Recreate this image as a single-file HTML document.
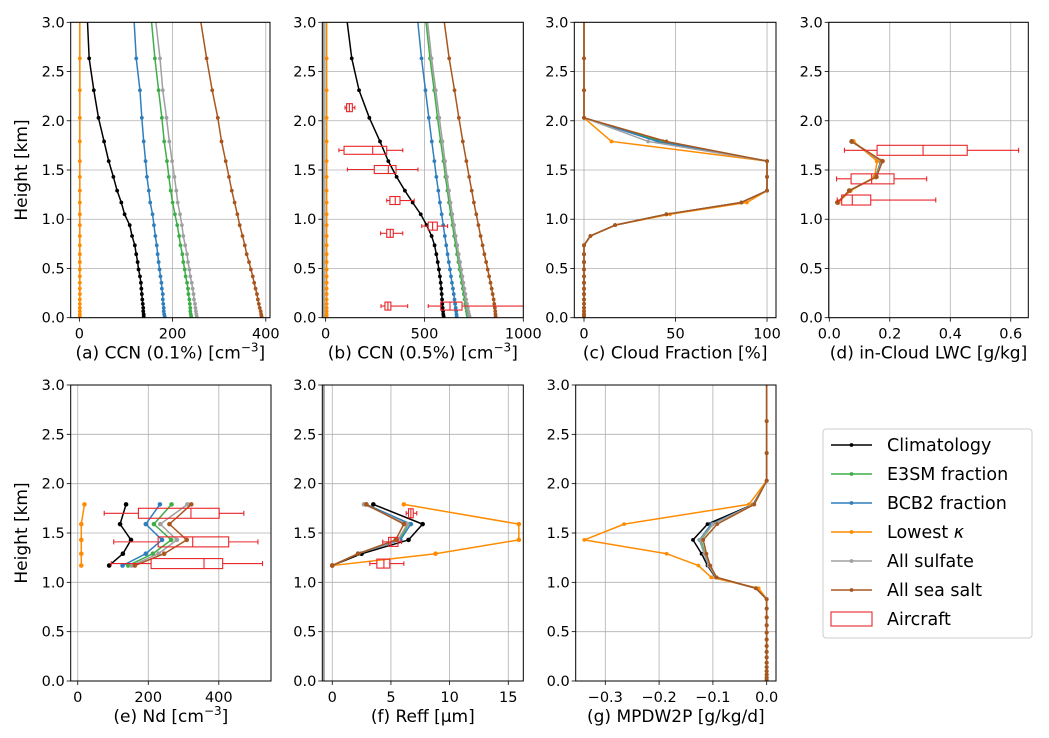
<!DOCTYPE html>
<html><head><meta charset="utf-8"><style>
html,body{margin:0;padding:0;background:#fff}
svg{display:block;font-family:"DejaVu Sans","Liberation Sans",sans-serif}
</style></head><body>
<svg id="fig" width="1049" height="738" viewBox="0 0 1049 738" xmlns="http://www.w3.org/2000/svg"></svg>
<script>
const LV=[3.05,2.634,2.31,2.03,1.79,1.59,1.43,1.29,1.17,1.05,0.94,0.83,0.735,0.645,0.565,0.49,0.42,0.355,0.295,0.24,0.185,0.14,0.10,0.065,0.035,0.012];
const CL=[1.79,1.59,1.43,1.29,1.17];
const names=["Climatology","E3SM fraction","BCB2 fraction","Lowest \u03ba","All sulfate","All sea salt"];
const colors=["#000000","#3fae49","#2f7fbd","#ff8c00","#a0a0a0","#a9561e"];
// (a) CCN 0.1%
const a_clim=[17,21,31,41,53,63,73,81,90,97,108,113,119,122,125,127,130,132,133,134,135,136,137,137,138,138];
const a_e3sm=[154,162,170,177,182,188,192,196,200,205,210,214,217,221,223,226,228,231,233,234,236,237,238,238,239,240];
const a_bcb2=[117,122,130,134,138,142,145,149,152,157,160,163,166,168,170,172,174,176,177,179,179,180,181,181,182,183];
const a_low=[1,1,1,1,1,1,1,1,1,1,1,1,1,1,1,1,1,1,1,1,1,1,1,1,1,1];
const a_sulf=[163,173,179,187,193,199,204,208,211,216,220,223,227,231,233,236,238,241,243,245,246,248,249,250,251,252];
const a_salt=[259,273,285,297,305,314,321,327,333,339,344,350,355,359,364,368,372,375,378,381,383,385,387,389,390,391];
// (b) CCN 0.5%
const b_clim=[106,132,169,221,275,317,359,401,440,481,511,536,551,560,567,573,578,582,585,587,589,590,592,594,595,597];
const b_e3sm=[505,528,549,566,582,596,606,616,624,633,642,650,658,665,672,678,684,689,694,699,703,707,711,714,717,720];
const b_bcb2=[464,485,505,522,537,550,560,570,578,587,595,603,610,617,623,629,634,639,644,648,652,655,658,660,662,663];
const b_low=[5,5,5,5,5,5,5,5,5,5,5,5,5,5,5,5,5,5,5,5,5,5,5,5,5,5];
const b_sulf=[513,536,557,575,591,604,614,624,632,641,650,658,666,673,680,686,692,697,702,707,711,715,719,722,725,728];
const b_salt=[597,625,652,674,694,712,726,739,750,762,773,784,794,803,812,820,827,834,840,845,850,853,856,858,859,860];
const b_boxH=[2.133,1.70,1.505,1.19,0.93,0.857,0.118,0.118];
const b_wlo=[98,67,110,309,486,278,280,519];
const b_q1=[106,93,246,325,519,309,300,582];
const b_med=[120,238,317,352,541,327,315,629];
const b_q3=[135,309,356,376,565,342,330,690];
const b_whi=[148,390,467,448,617,390,415,1100];
// (c) cloud fraction
const c_clim=[0,0,0,0,43,100,100,100,86,45,17,3.5,0,0,0,0,0,0,0,0,0,0,0,0,0,0];
const c_e3sm=[0,0,0,0,42,100,100,100,86,45,17,3.5,0,0,0,0,0,0,0,0,0,0,0,0,0,0];
const c_bcb2=[0,0,0,0,40,100,100,100,86,45,17,3.5,0,0,0,0,0,0,0,0,0,0,0,0,0,0];
const c_low=[0,0,0,0,15,100,100,100,89,47,17,3.5,0,0,0,0,0,0,0,0,0,0,0,0,0,0];
const c_sulf=[0,0,0,0,35,100,100,100,86,45,17,3.5,0,0,0,0,0,0,0,0,0,0,0,0,0,0];
const c_salt=[0,0,0,0,45,100,100,100,86,45,17,3.5,0,0,0,0,0,0,0,0,0,0,0,0,0,0];
// (d) LWC
const d_clim=[0.074,0.172,0.154,0.066,0.027];
const d_e3sm=[0.074,0.170,0.154,0.066,0.027];
const d_bcb2=[0.074,0.170,0.154,0.066,0.027];
const d_low=[0.080,0.158,0.150,0.070,0.030];
const d_sulf=[0.074,0.172,0.155,0.066,0.027];
const d_salt=[0.074,0.176,0.156,0.066,0.027];
const d_boxH=[1.70,1.41,1.195];
const d_wlo=[0.05,0.024,0.026];
const d_q1=[0.158,0.072,0.041];
const d_med=[0.31,0.14,0.076];
const d_q3=[0.456,0.214,0.137];
const d_whi=[0.626,0.322,0.352];
// (e) Nd
const e_clim=[137,120,151,128,89];
const e_e3sm=[266,216,265,213,143];
const e_bcb2=[233,193,239,193,127];
const e_low=[19,10,10,10,10];
const e_sulf=[311,234,281,229,153];
const e_salt=[322,260,309,245,162];
const e_boxH=[1.70,1.41,1.19];
const e_wlo=[75,102,95];
const e_q1=[172,228,208];
const e_med=[321,326,358];
const e_q3=[401,428,411];
const e_whi=[471,511,524];
// (f) Reff
const f_clim=[3.5,7.7,6.5,2.5,0];
const f_e3sm=[2.9,6.5,5.7,2.2,0];
const f_bcb2=[2.9,6.7,5.8,2.2,0];
const f_low=[6.1,15.9,15.9,8.8,0];
const f_sulf=[2.7,6.4,5.6,2.2,0];
const f_salt=[2.9,6.1,5.4,2.2,0];
const f_boxH=[1.70,1.41,1.19];
const f_wlo=[6.3,4.3,3.2];
const f_q1=[6.5,4.8,3.8];
const f_med=[6.7,5.0,4.4];
const f_q3=[6.9,5.6,4.9];
const f_whi=[7.2,5.9,6.1];
// (g) MPDW2P
const g_clim=[0,0,0,0,-0.025,-0.110,-0.137,-0.121,-0.110,-0.095,-0.020,0,0,0,0,0,0,0,0,0,0,0,0,0,0,0];
const g_e3sm=[0,0,0,0,-0.024,-0.100,-0.122,-0.115,-0.107,-0.094,-0.020,0,0,0,0,0,0,0,0,0,0,0,0,0,0,0];
const g_bcb2=[0,0,0,0,-0.024,-0.103,-0.125,-0.116,-0.108,-0.094,-0.020,0,0,0,0,0,0,0,0,0,0,0,0,0,0,0];
const g_low=[0,0,0,0,-0.033,-0.265,-0.339,-0.186,-0.127,-0.103,-0.015,0,0,0,0,0,0,0,0,0,0,0,0,0,0,0];
const g_sulf=[0,0,0,0,-0.024,-0.100,-0.124,-0.116,-0.108,-0.094,-0.020,0,0,0,0,0,0,0,0,0,0,0,0,0,0,0];
const g_salt=[0,0,0,0,-0.023,-0.092,-0.118,-0.112,-0.105,-0.093,-0.020,0,0,0,0,0,0,0,0,0,0,0,0,0,0,0];

const NS="http://www.w3.org/2000/svg";
const svg=document.getElementById('fig');
function mk(tag,attrs,parent){const e=document.createElementNS(NS,tag);for(const k in attrs)e.setAttribute(k,attrs[k]);(parent||svg).appendChild(e);return e;}
function fmtTick(v,dec){let s=v.toFixed(dec);if(v<0)s="\u2212"+s.slice(1);return s;}

const panels=[
 {id:"a",x0:70.7,x1:270,y0:22.3,y1:317.7,xmin:-18.6,xmax:409,ticks:[0,200,400],dec:0,label:"(a) CCN (0.1%) [cm",sup:"\u22123",end:"]",H:LV,series:[a_clim,a_e3sm,a_bcb2,a_low,a_sulf,a_salt],ylab:true},
 {id:"b",x0:322.3,x1:523.3,y0:22.3,y1:317.7,xmin:-17,xmax:1000,ticks:[0,500,1000],dec:0,label:"(b) CCN (0.5%) [cm",sup:"\u22123",end:"]",H:LV,series:[b_clim,b_e3sm,b_bcb2,b_low,b_sulf,b_salt],box:[b_boxH,b_wlo,b_q1,b_med,b_q3,b_whi],bh:8,leftGray:true},
 {id:"c",x0:574.3,x1:776,y0:22.3,y1:317.7,xmin:-5.3,xmax:104.9,ticks:[0,50,100],dec:0,label:"(c) Cloud Fraction [%]",H:LV,series:[c_clim,c_e3sm,c_bcb2,c_low,c_sulf,c_salt]},
 {id:"d",x0:828.7,x1:1028.3,y0:22.3,y1:317.7,xmin:-0.002,xmax:0.658,ticks:[0,0.2,0.4,0.6],dec:1,label:"(d) in-Cloud LWC [g/kg]",H:CL,series:[d_clim,d_e3sm,d_bcb2,d_low,d_sulf,d_salt],box:[d_boxH,d_wlo,d_q1,d_med,d_q3,d_whi],bh:10,big:true},
 {id:"e",x0:70.7,x1:271,y0:385,y1:681,xmin:-20,xmax:548,ticks:[0,200,400],dec:0,label:"(e) Nd [cm",sup:"\u22123",end:"]",H:CL,series:[e_clim,e_e3sm,e_bcb2,e_low,e_sulf,e_salt],box:[e_boxH,e_wlo,e_q1,e_med,e_q3,e_whi],bh:10,ylab:true,big:true},
 {id:"f",x0:322.3,x1:523.3,y0:385,y1:681,xmin:-0.85,xmax:16.28,ticks:[0,5,10,15],dec:0,label:"(f) Reff [\u03bcm]",H:CL,series:[f_clim,f_e3sm,f_bcb2,f_low,f_sulf,f_salt],box:[f_boxH,f_wlo,f_q1,f_med,f_q3,f_whi],bh:9,leftGray:true,big:true},
 {id:"g",x0:575.7,x1:776,y0:385,y1:681,xmin:-0.355,xmax:0.0173,ticks:[-0.3,-0.2,-0.1,0],dec:1,label:"(g) MPDW2P [g/kg/d]",H:LV,series:[g_clim,g_e3sm,g_bcb2,g_low,g_sulf,g_salt]}
];

panels.forEach(p=>{
  const g=mk('g',{});
  
  
  const X=v=>p.x0+(v-p.xmin)/(p.xmax-p.xmin)*(p.x1-p.x0);
  const Y=h=>p.y1-h/3*(p.y1-p.y0);
  const cp=mk('clipPath',{id:'clip-'+p.id},g);
  mk('rect',{x:p.x0,y:p.y0,width:p.x1-p.x0,height:p.y1-p.y0},cp);
  for(let k=0;k<=6;k++){const h=k*0.5;const gl=mk('line',{x1:p.x0,x2:p.x1,y1:Y(h),y2:Y(h),stroke:'#b0b0b0','stroke-width':0.8},g);
    
    const t=mk('text',{x:p.x0-6,y:Y(h)+5,'text-anchor':'end','font-size':14.5,fill:'#000'},g);t.textContent=h.toFixed(1);
    
    mk('line',{x1:p.x0-4,x2:p.x0,y1:Y(h),y2:Y(h),stroke:'#000','stroke-width':0.8},g);}
  p.ticks.forEach(v=>{const gl=mk('line',{x1:X(v),x2:X(v),y1:p.y0,y2:p.y1,stroke:'#b0b0b0','stroke-width':0.8},g);
    
    mk('line',{x1:X(v),x2:X(v),y1:p.y1,y2:p.y1+4,stroke:'#000','stroke-width':0.8},g);
    const t=mk('text',{x:X(v),y:p.y1+21,'text-anchor':'middle','font-size':14.5,fill:'#000'},g);t.textContent=fmtTick(v,p.dec);
    });
  const pg=mk('g',{'clip-path':'url(#clip-'+p.id+')'},g);
  if(p.leftGray){const lg=mk('line',{x1:p.x0+1.5,x2:p.x0+1.5,y1:p.y0,y2:p.y1,stroke:'#999','stroke-width':2},pg);
    }
  p.series.forEach((s,si)=>{
    const pts=s.map((v,i)=>X(v).toFixed(2)+','+Y(p.H[i]).toFixed(2)).join(' ');
    const pl=mk('polyline',{points:pts,fill:'none',stroke:colors[si],'stroke-width':1.5,'stroke-linejoin':'round'},pg);
    
    
    s.forEach((v,i)=>{const c=mk('circle',{cx:X(v),cy:Y(p.H[i]),r:p.big?2.3:1.9,fill:colors[si]},pg);
      });
  });
  if(p.box){const [bH,wl,q1,md,q3,wh]=p.box;const hh=p.bh/2;
    bH.forEach((h,i)=>{const y=Y(h);const bg=mk('g',{stroke:'#e8262a','stroke-width':1.1,fill:'none'},pg);
      
      mk('rect',{x:X(q1[i]),y:y-hh,width:X(q3[i])-X(q1[i]),height:p.bh},bg);
      mk('line',{x1:X(md[i]),x2:X(md[i]),y1:y-hh,y2:y+hh},bg);
      mk('line',{x1:X(wl[i]),x2:X(q1[i]),y1:y,y2:y},bg);
      mk('line',{x1:X(q3[i]),x2:X(wh[i]),y1:y,y2:y},bg);
      mk('line',{x1:X(wl[i]),x2:X(wl[i]),y1:y-hh/2,y2:y+hh/2},bg);
      mk('line',{x1:X(wh[i]),x2:X(wh[i]),y1:y-hh/2,y2:y+hh/2},bg);});}
  const fr=mk('rect',{x:p.x0,y:p.y0,width:p.x1-p.x0,height:p.y1-p.y0,fill:'none',stroke:'#000','stroke-width':1},g);
  
  const xl=mk('text',{x:(p.x0+p.x1)/2,y:p.y1+41,'text-anchor':'middle','font-size':17,fill:'#000'},g);
  
  xl.appendChild(document.createTextNode(p.label));
  if(p.sup){const ts=mk('tspan',{'font-size':12,dy:-7},xl);ts.textContent=p.sup;const te=mk('tspan',{dy:7},xl);te.textContent=p.end;}
  if(p.ylab){const cy=(p.y0+p.y1)/2;const yl=mk('text',{x:27,y:cy,'text-anchor':'middle','font-size':17,transform:'rotate(-90 27 '+cy+')',fill:'#000'},g);
    yl.textContent="Height [km]";}
});
// legend
const lg=mk('g',{});


mk('rect',{x:823,y:429,width:209,height:209,rx:3,fill:'#fff',stroke:'#ccc','stroke-width':1},lg);
names.concat(["Aircraft"]).forEach((n,i)=>{const y=445+i*29;
  const en=mk('g',{},lg);
  
  
  if(i<6){mk('line',{x1:831,x2:872,y1:y,y2:y,stroke:colors[i],'stroke-width':1.5},en);mk('circle',{cx:851.5,cy:y,r:1.9,fill:colors[i]},en);}
  else{mk('rect',{x:831,y:y-7,width:41,height:14,fill:'none',stroke:'#e8262a','stroke-width':1.1},en);}
  const t=mk('text',{x:887,y:y+6,'font-size':17.5,fill:'#000'},en);
  if(i===3){t.appendChild(document.createTextNode("Lowest "));const k=mk('tspan',{'font-style':'italic'},t);k.textContent="\u03ba";}
  else t.textContent=n;});
</script>
</body></html>
